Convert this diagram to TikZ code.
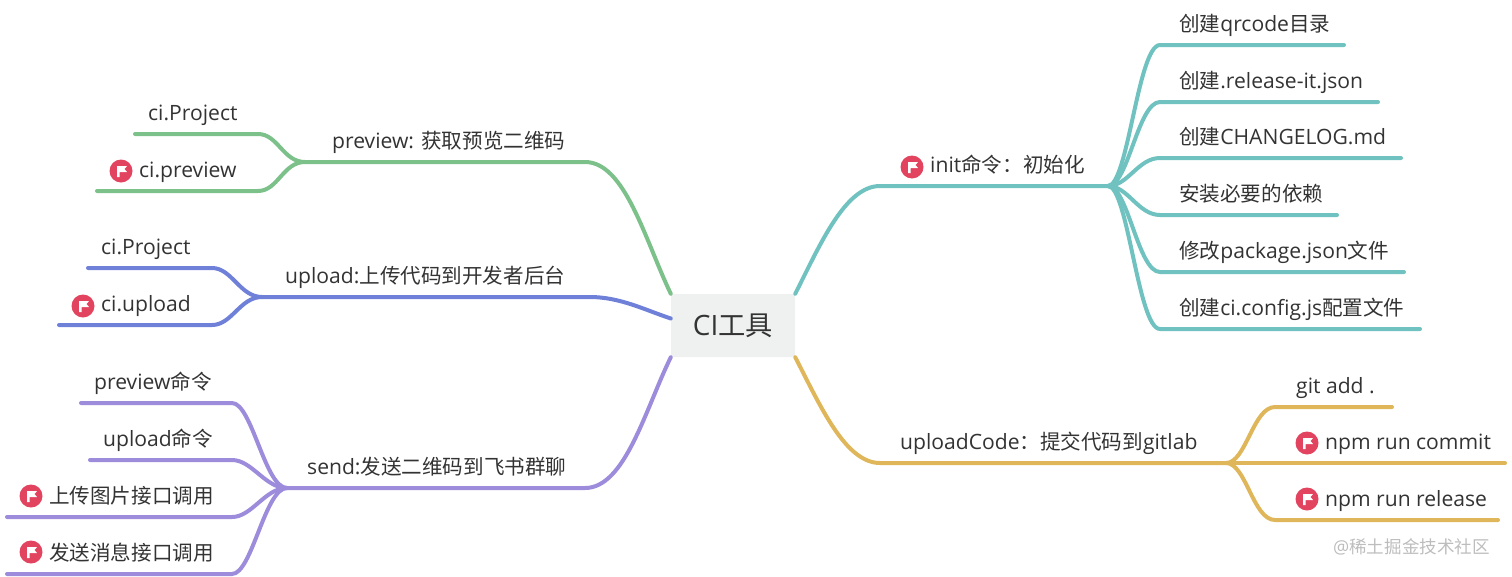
\documentclass[tikz,border=0pt]{standalone}
\usepackage{fontspec}
\setmainfont{Open Sans}
\newfontfamily\cjk[Scale=0.975]{Noto Sans CJK SC}
\newcommand{\zh}[1]{{\cjk #1}}
\definecolor{inkgray}{HTML}{333333}
\definecolor{boxgray}{HTML}{EFF1F1}
\definecolor{markgray}{HTML}{BDBDBD}
\definecolor{flagred}{HTML}{E2435F}
\definecolor{lgreen}{HTML}{7CC08A}
\definecolor{lblue}{HTML}{6F80D8}
\definecolor{lpurple}{HTML}{9D8BDB}
\definecolor{lteal}{HTML}{6FC2BF}
\definecolor{lgold}{HTML}{DFB659}
\begin{document}
\begin{tikzpicture}[x=1pt,y=-1pt,font=\fontsize{21.1}{24}\selectfont,text=inkgray]
    \tikzset{lbl/.style={anchor=base west, inner sep=0pt},
        root/.style={fill=boxgray, rounded corners=3pt, minimum width=124pt, minimum height=63pt, inner sep=0pt, font=\fontsize{28}{32}\selectfont},
        wire/.style={line width=4pt, line cap=round},
        twig/.style={out=0, in=180, out distance=20pt, in distance=22pt},
        flagdot/.style={circle, fill=flagred, minimum size=23pt, inner sep=0pt,
            path picture={\fill[white] (-4,6) -- (-4,-5) -- (6,-5) -- (3.5,-2) -- (6,1) -- (-1.5,1) -- (-1.5,6) -- cycle;}}}
    \useasboundingbox (0,0) rectangle (1512,576);
    \node[root] (ci) at (733,325.5) {CI\zh{工具}};
    % left side, preview
    \node[lbl] (pv) at (332,148) {preview: \zh{获取预览二维码}};
    \coordinate (pvl) at (305,162);
    \coordinate (pvr) at (585,162);
    \draw[wire,lgreen] (ci.north west) .. controls (645,240) and (625,162) .. (pvr) -- (pvl);
    \node[lbl] (pv1) at (148,120) {ci.Project};
    \coordinate (pv1l) at (135,134);
    \coordinate (pv1r) at (258,134);
    \draw[wire,lgreen] (pv1l) -- (pv1r) to[twig] (pvl);
    \node[flagdot] (pv2f) at (121,171) {};
    \node[lbl] (pv2) at (139,177) {ci.preview};
    \coordinate (pv2l) at (97,191);
    \coordinate (pv2r) at (258,191);
    \draw[wire,lgreen] (pv2l) -- (pv2r) to[twig] (pvl);
    % left side, upload
    \node[lbl] (up) at (285,283) {upload:\zh{上传代码到开发者后台}};
    \coordinate (upl) at (262,297);
    \coordinate (upr) at (590,297);
    \draw[wire,lblue] ([yshift=7pt]ci.west) .. controls (645,310) and (620,297) .. (upr) -- (upl);
    \node[lbl] (up1) at (101,254) {ci.Project};
    \coordinate (up1l) at (88,268);
    \coordinate (up1r) at (212,268);
    \draw[wire,lblue] (up1l) -- (up1r) to[twig] (upl);
    \node[flagdot] (up2f) at (83,306) {};
    \node[lbl] (up2) at (101,311) {ci.upload};
    \coordinate (up2l) at (59,325);
    \coordinate (up2r) at (212,325);
    \draw[wire,lblue] (up2l) -- (up2r) to[twig] (upl);
    % left side, send
    \node[lbl] (sd) at (307,474) {send:\zh{发送二维码到飞书群聊}};
    \coordinate (sdl) at (287,488);
    \coordinate (sdr) at (585,488);
    \draw[wire,lpurple] (ci.south west) .. controls (645,410) and (625,488) .. (sdr) -- (sdl);
    \node[lbl] (sd1) at (94,389) {preview\zh{命令}};
    \coordinate (sd1l) at (81,403);
    \coordinate (sd1r) at (232,403);
    \draw[wire,lpurple] (sd1l) -- (sd1r) to[twig] (sdl);
    \node[lbl] (sd2) at (103,446) {upload\zh{命令}};
    \coordinate (sd2l) at (90,460);
    \coordinate (sd2r) at (232,460);
    \draw[wire,lpurple] (sd2l) -- (sd2r) to[twig] (sdl);
    \node[flagdot] (sd3f) at (31,496) {};
    \node[lbl] (sd3) at (49,503) {\zh{上传图片接口调用}};
    \coordinate (sd3l) at (7,517);
    \coordinate (sd3r) at (232,517);
    \draw[wire,lpurple] (sd3l) -- (sd3r) to[twig] (sdl);
    \node[flagdot] (sd4f) at (31,552) {};
    \node[lbl] (sd4) at (49,560) {\zh{发送消息接口调用}};
    \coordinate (sd4l) at (7,574);
    \coordinate (sd4r) at (232,574);
    \draw[wire,lpurple] (sd4l) -- (sd4r) to[twig] (sdl);
    % right side, init
    \node[flagdot] (inf) at (912,167) {};
    \node[lbl] (in) at (930,172) {init\zh{命令：初始化}};
    \coordinate (inl) at (880,186);
    \coordinate (inr) at (1108,186);
    \draw[wire,lteal] (ci.north east) .. controls (820,245) and (845,186) .. (inl) -- (inr);
    \node[lbl] (in1) at (1179,31) {\zh{创建}qrcode\zh{目录}};
    \coordinate (in1l) at (1160,45);
    \coordinate (in1r) at (1344,45);
    \draw[wire,lteal] (inr) to[twig] (in1l) -- (in1r);
    \node[lbl] (in2) at (1179,88) {\zh{创建}.release-it.json};
    \coordinate (in2l) at (1160,102);
    \coordinate (in2r) at (1378,102);
    \draw[wire,lteal] (inr) to[twig] (in2l) -- (in2r);
    \node[lbl] (in3) at (1179,144) {\zh{创建}CHANGELOG.md};
    \coordinate (in3l) at (1160,158);
    \coordinate (in3r) at (1401,158);
    \draw[wire,lteal] (inr) to[twig] (in3l) -- (in3r);
    \node[lbl] (in4) at (1179,201) {\zh{安装必要的依赖}};
    \coordinate (in4l) at (1160,215);
    \coordinate (in4r) at (1337,215);
    \draw[wire,lteal] (inr) to[twig] (in4l) -- (in4r);
    \node[lbl] (in5) at (1179,258) {\zh{修改}package.json\zh{文件}};
    \coordinate (in5l) at (1160,272);
    \coordinate (in5r) at (1404,272);
    \draw[wire,lteal] (inr) to[twig] (in5l) -- (in5r);
    \node[lbl] (in6) at (1179,315) {\zh{创建}ci.config.js\zh{配置文件}};
    \coordinate (in6l) at (1160,329);
    \coordinate (in6r) at (1420,329);
    \draw[wire,lteal] (inr) to[twig] (in6l) -- (in6r);
    % right side, uploadCode
    \node[lbl] (uc) at (900,449) {uploadCode\zh{：提交代码到}gitlab};
    \coordinate (ucl) at (880,463);
    \coordinate (ucr) at (1226,463);
    \draw[wire,lgold] (ci.south east) .. controls (820,405) and (845,463) .. (ucl) -- (ucr);
    \node[lbl] (uc1) at (1296,393) {git add .};
    \coordinate (uc1l) at (1275,407);
    \coordinate (uc1r) at (1392,407);
    \draw[wire,lgold] (ucr) to[twig] (uc1l) -- (uc1r);
    \node[flagdot] (uc2f) at (1307,443) {};
    \node[lbl] (uc2) at (1325,449) {npm run commit};
    \coordinate (uc2r) at (1505,463);
    \draw[wire,lgold] (ucr) -- (uc2r);
    \node[flagdot] (uc3f) at (1307,499) {};
    \node[lbl] (uc3) at (1325,506) {npm run release};
    \coordinate (uc3l) at (1275,520);
    \coordinate (uc3r) at (1498,520);
    \draw[wire,lgold] (ucr) to[twig] (uc3l) -- (uc3r);
    \node[lbl,text=markgray,font=\fontsize{18}{20}\selectfont] (wm) at (1333,553) {@\zh{稀土掘金技术社区}};
\end{tikzpicture}
\end{document}
